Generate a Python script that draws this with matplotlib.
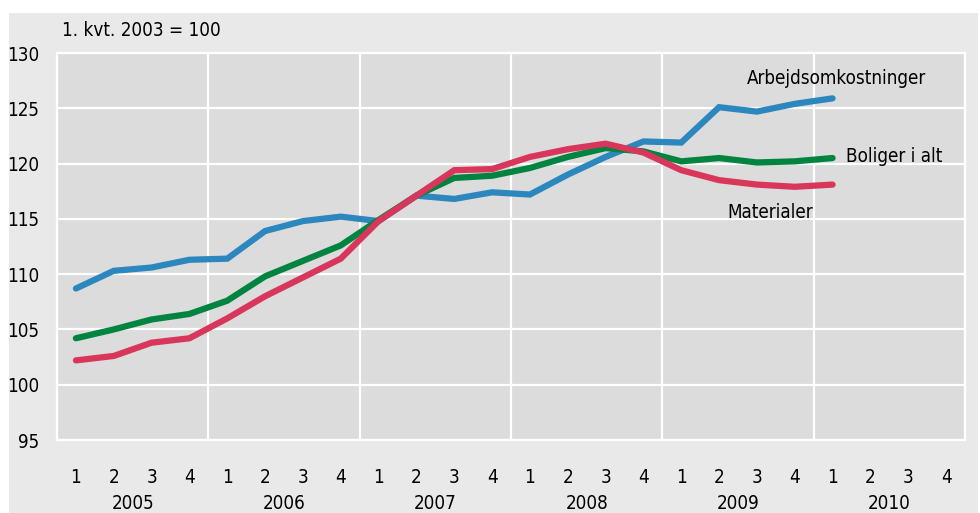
import matplotlib.pyplot as plt
import matplotlib.patches as mpatches
from matplotlib.transforms import blended_transform_factory

# Quarterly index, 1. kvt. 2003 = 100 (2005 Q1 .. 2010 Q1)
years = ["2005", "2006", "2007", "2008", "2009", "2010"]
quarters = ["1", "2", "3", "4"]

arbejdsomkostninger = [108.7, 110.3, 110.6, 111.3, 111.4, 113.9, 114.8, 115.2,
                       114.8, 117.1, 116.8, 117.4, 117.2, 119.0, 120.6, 122.0,
                       121.9, 125.1, 124.7, 125.4, 125.9]
boliger_i_alt = [104.2, 105.0, 105.9, 106.4, 107.6, 109.8, 111.2, 112.6,
                 114.9, 117.1, 118.7, 118.9, 119.6, 120.6, 121.4, 121.1,
                 120.2, 120.5, 120.1, 120.2, 120.5]
materialer = [102.2, 102.6, 103.8, 104.2, 106.0, 108.0, 109.7, 111.4,
              114.8, 117.1, 119.4, 119.5, 120.6, 121.3, 121.8, 121.0,
              119.4, 118.5, 118.1, 117.9, 118.1]

plt.rcParams["font.family"] = ["DejaVu Sans"]
plt.rcParams["font.stretch"] = "condensed"

fig = plt.figure(figsize=(9.8, 5.13), dpi=100, facecolor="white")
# outer light-grey panel
bg = mpatches.Rectangle((9 / 980, 0), 969 / 980, 500 / 513,
                        transform=fig.transFigure,
                        facecolor="#e9e9e9", edgecolor="none", zorder=-10)
fig.patches.append(bg)

ax = fig.add_axes([57 / 980, 1 - 440 / 513, 908 / 980, 387 / 513])
ax.set_facecolor("#dcdcdc")

n_q = len(years) * len(quarters)
ax.set_xlim(0, n_q)
ax.set_ylim(95, 130)

# white grid: year boundaries and every 5 index points
ax.set_xticks(range(0, n_q + 1, 4))
ax.set_xticklabels([])
ax.set_yticks(range(95, 131, 5))
ax.grid(True, color="white", linewidth=1.6)
ax.set_axisbelow(True)
for s in ax.spines.values():
    s.set_color("white")
    s.set_linewidth(1.6)
ax.tick_params(length=0, labelsize=13.5, pad=13)

# quarter labels and year labels
trans = blended_transform_factory(ax.transData, ax.transAxes)
for i in range(n_q):
    ax.text(i + 0.5, -0.097, quarters[i % 4], transform=trans,
            ha="center", va="center", fontsize=13.5)
for j, yr in enumerate(years):
    ax.text(j * 4 + 2, -0.165, yr, transform=trans,
            ha="center", va="center", fontsize=13.5)

x = [i + 0.5 for i in range(len(arbejdsomkostninger))]
kw = dict(linewidth=4.5, solid_capstyle="round", solid_joinstyle="miter")
ax.plot(x, arbejdsomkostninger, color="#2b87be", **kw)
ax.plot(x, boliger_i_alt, color="#00843f", **kw)
ax.plot(x, materialer, color="#d8365a", **kw)

ax.text(x[-1] + 0.1, 127.7, "Arbejdsomkostninger", ha="center", va="center", fontsize=13.5)
ax.text(x[-1] + 0.35, 120.6, "Boliger i alt", ha="left", va="center", fontsize=13.5)
ax.text(x[-1] - 1.65, 115.6, "Materialer", ha="center", va="center", fontsize=13.5)

fig.text(62 / 980, 1 - 30 / 513, "1. kvt. 2003 = 100", ha="left", va="center", fontsize=13.5)

fig.savefig("out.png", dpi=100, facecolor=fig.get_facecolor())
